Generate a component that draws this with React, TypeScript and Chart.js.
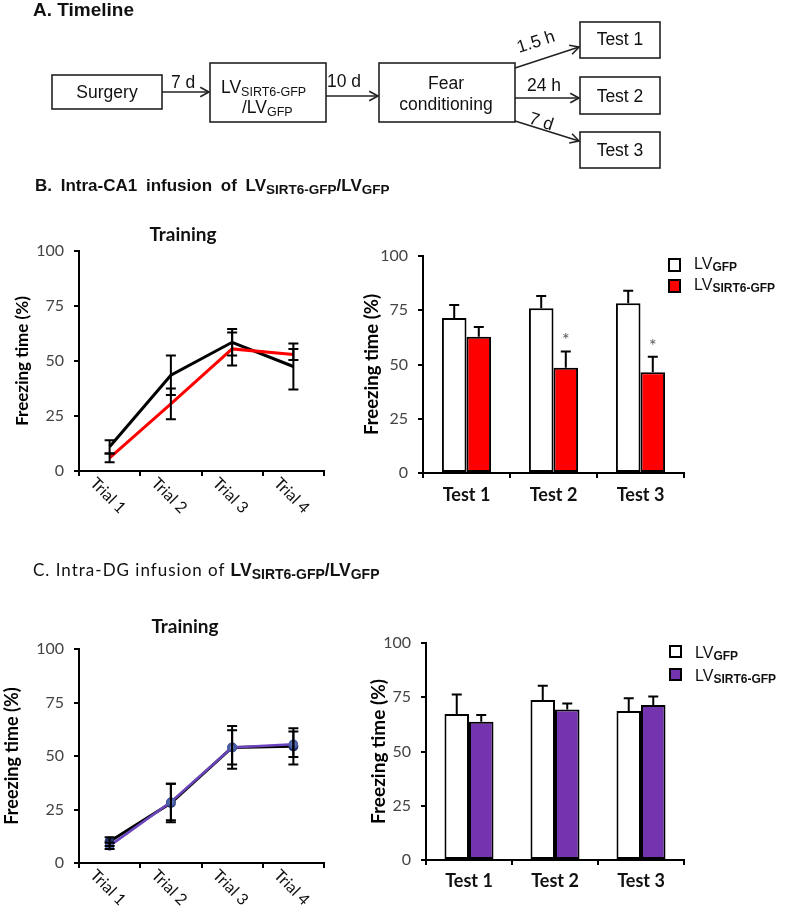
import React, { useEffect, useRef } from 'react';
import { Chart, registerables } from 'chart.js';

Chart.register(...registerables);

// ---------------- DATA ----------------
const trialLabels = ['Trial 1', 'Trial 2', 'Trial 3', 'Trial 4'];
const testLabels = ['Test 1', 'Test 2', 'Test 3'];

// B. Intra-CA1 – training
const bTrainGFP = [11, 43.5, 58.5, 47.5];
const bTrainGFPErr = [3, 9, 6, 10.5];
const bTrainSIRT6 = [6, 30.5, 55.5, 53];
const bTrainSIRT6Err = [2, 7, 7.5, 2.5];

// B. Intra-CA1 – tests
const bTestGFP = [71.4, 75.9, 78.2];
const bTestGFPErr = [6, 5.7, 5.8];
const bTestSIRT6 = [62.8, 48.5, 46.4];
const bTestSIRT6Err = [4.5, 7.5, 7.2];
const bTestSig = ['', '*', '*'];

// C. Intra-DG – training
const cTrainGFP = [10, 28, 54, 54.5];
const cTrainGFPErr = [2, 9, 10, 8.5];
const cTrainSIRT6 = [8, 28.5, 54, 55.5];
const cTrainSIRT6Err = [1.5, 8.5, 8, 6];

// C. Intra-DG – tests
const cTestGFP = [67.3, 73.7, 68.7];
const cTestGFPErr = [9, 6.6, 5.8];
const cTestSIRT6 = [63.7, 69.4, 71.4];
const cTestSIRT6Err = [3.1, 2.7, 3.9];

const yMin = 0;
const yMax = 100;
const yStep = 25;

// ---------------- STYLE ----------------
const FONT = "Lato, 'Open Sans', sans-serif";
const ARIAL = "'Liberation Sans', Arial, sans-serif";
const RED = '#ff0000';
const PURPLE = '#7434b0';
const PURPLE_LINE = '#6b45bd';

Chart.defaults.font.family = FONT;

function makeErrorBars(errors: number[][], opts: { upOnly?: boolean; cap?: number; width?: number }) {
  return {
    id: 'errorBars',
    afterDatasetsDraw(chart: any) {
      const ctx = chart.ctx;
      const y = chart.scales.y;
      const cap = opts.cap ?? 5;
      ctx.save();
      ctx.strokeStyle = '#000';
      ctx.lineWidth = opts.width ?? 2;
      errors.forEach((errs, di) => {
        const meta = chart.getDatasetMeta(di);
        const vals = chart.data.datasets[di].data as number[];
        meta.data.forEach((el: any, i: number) => {
          const v = vals[i];
          const e = errs[i];
          const x = el.x;
          const yt = y.getPixelForValue(v + e);
          const yb = opts.upOnly ? y.getPixelForValue(v) : y.getPixelForValue(v - e);
          ctx.beginPath();
          ctx.moveTo(x, yb);
          ctx.lineTo(x, yt);
          ctx.moveTo(x - cap, yt);
          ctx.lineTo(x + cap, yt);
          if (!opts.upOnly) {
            ctx.moveTo(x - cap, yb);
            ctx.lineTo(x + cap, yb);
          }
          ctx.stroke();
        });
      });
      ctx.restore();
    },
  };
}

function makeSigMarks(datasetIndex: number, marks: string[], errs: number[]) {
  return {
    id: 'sigMarks',
    afterDatasetsDraw(chart: any) {
      const ctx = chart.ctx;
      const y = chart.scales.y;
      const meta = chart.getDatasetMeta(datasetIndex);
      const vals = chart.data.datasets[datasetIndex].data as number[];
      ctx.save();
      ctx.fillStyle = '#555';
      ctx.font = `18px ${FONT}`;
      ctx.textAlign = 'center';
      ctx.textBaseline = 'middle';
      marks.forEach((m, i) => {
        if (!m) return;
        const el = meta.data[i];
        ctx.fillText(m, el.x, y.getPixelForValue(vals[i] + errs[i]) - 11);
      });
      ctx.restore();
    },
  };
}

const rotatedXLabels = {
  id: 'rotatedXLabels',
  afterDraw(chart: any) {
    const x = chart.scales.x;
    const ctx = chart.ctx;
    ctx.save();
    ctx.font = `16px ${FONT}`;
    ctx.fillStyle = '#111';
    ctx.textAlign = 'left';
    ctx.textBaseline = 'top';
    (chart.data.labels as string[]).forEach((lab, i) => {
      const px = x.getPixelForValue(i);
      ctx.save();
      ctx.translate(px - 11, x.top + 4);
      ctx.rotate(Math.PI / 4);
      ctx.fillText(lab, 0, 0);
      ctx.restore();
    });
    ctx.restore();
  },
};

function yAxis(width: number, titleSize: number, titlePad: number) {
  return {
    min: yMin,
    max: yMax,
    ticks: { stepSize: yStep, padding: 10, color: '#444', font: { family: FONT, size: 16 } },
    grid: { drawOnChartArea: false, drawTicks: true, tickLength: 5, lineWidth: 2, color: '#000' },
    border: { display: true, color: '#000', width: 2 },
    title: {
      display: true,
      text: 'Freezing time (%)',
      color: '#000',
      font: { family: FONT, size: titleSize, weight: 'bold' as const },
      padding: { top: titlePad, bottom: 0 },
    },
    afterFit(scale: any) {
      scale.width = width;
    },
  };
}

function lineXAxis(height: number) {
  return {
    offset: true,
    grid: { offset: true, drawOnChartArea: false, tickLength: 5, lineWidth: 2, color: '#000' },
    border: { display: true, color: '#000', width: 2 },
    ticks: { display: false },
    afterFit(scale: any) {
      scale.height = height;
    },
  };
}

function barXAxis(height: number, pad: number) {
  return {
    offset: true,
    grid: { offset: true, drawOnChartArea: false, tickLength: 5, lineWidth: 2, color: '#000' },
    border: { display: true, color: '#000', width: 2 },
    ticks: { color: '#111', padding: pad, font: { family: FONT, size: 18, weight: 'bold' as const } },
    afterFit(scale: any) {
      scale.height = height;
    },
  };
}

const baseOpts = {
  responsive: false,
  animation: false as const,
  events: [] as any[],
  plugins: { legend: { display: false }, tooltip: { enabled: false }, title: { display: false } },
};

const configBLine: any = {
  type: 'line',
  data: {
    labels: trialLabels,
    datasets: [
      { label: 'LV GFP', data: bTrainGFP, borderColor: '#000', borderWidth: 3, pointRadius: 0, order: 1 },
      { label: 'LV SIRT6-GFP', data: bTrainSIRT6, borderColor: RED, borderWidth: 3, pointRadius: 0, order: 0 },
    ],
  },
  options: {
    ...baseOpts,
    layout: { padding: { top: 21, right: 16, left: 0, bottom: 0 } },
    scales: { x: lineXAxis(59), y: yAxis(79, 17, 12) },
  },
  plugins: [makeErrorBars([bTrainGFPErr, bTrainSIRT6Err], { cap: 5 }), rotatedXLabels],
};

const configBBar: any = {
  type: 'bar',
  data: {
    labels: testLabels,
    datasets: [
      { label: 'LV GFP', data: bTestGFP, backgroundColor: '#fff', borderColor: '#000', borderWidth: 2, borderSkipped: false, barPercentage: 1, categoryPercentage: 0.565 },
      { label: 'LV SIRT6-GFP', data: bTestSIRT6, backgroundColor: RED, borderColor: '#000', borderWidth: 2, borderSkipped: false, barPercentage: 1, categoryPercentage: 0.565 },
    ],
  },
  options: {
    ...baseOpts,
    layout: { padding: { top: 26, right: 6, left: 0, bottom: 0 } },
    scales: { x: barXAxis(57, 6), y: yAxis(83, 18.5, 21) },
  },
  plugins: [
    makeErrorBars([bTestGFPErr, bTestSIRT6Err], { upOnly: true, cap: 5 }),
    makeSigMarks(1, bTestSig, bTestSIRT6Err),
  ],
};

const configCLine: any = {
  type: 'line',
  data: {
    labels: trialLabels,
    datasets: [
      { label: 'LV GFP', data: cTrainGFP, borderColor: '#000', borderWidth: 3, pointRadius: 3.5, pointBackgroundColor: '#1f2e66', pointBorderColor: '#1f2e66', order: 1 },
      { label: 'LV SIRT6-GFP', data: cTrainSIRT6, borderColor: PURPLE_LINE, borderWidth: 2.5, pointRadius: 3.5, pointBackgroundColor: '#6f86c8', pointBorderColor: '#4a5fa8', order: 0 },
    ],
  },
  options: {
    ...baseOpts,
    layout: { padding: { top: 39, right: 16, left: 0, bottom: 0 } },
    scales: { x: lineXAxis(50), y: yAxis(79, 18, 1) },
  },
  plugins: [makeErrorBars([cTrainGFPErr, cTrainSIRT6Err], { cap: 5 }), rotatedXLabels],
};

const configCBar: any = {
  type: 'bar',
  data: {
    labels: testLabels,
    datasets: [
      { label: 'LV GFP', data: cTestGFP, backgroundColor: '#fff', borderColor: '#000', borderWidth: 2, borderSkipped: false, barPercentage: 1, categoryPercentage: 0.57 },
      { label: 'LV SIRT6-GFP', data: cTestSIRT6, backgroundColor: PURPLE, borderColor: '#000', borderWidth: 2, borderSkipped: false, barPercentage: 1, categoryPercentage: 0.57 },
    ],
  },
  options: {
    ...baseOpts,
    layout: { padding: { top: 33, right: 6, left: 0, bottom: 0 } },
    scales: { x: barXAxis(53, 5), y: yAxis(86, 19, 27) },
  },
  plugins: [makeErrorBars([cTestGFPErr, cTestSIRT6Err], { upOnly: true, cap: 5 })],
};

function ChartCanvas({ config, left, top, width, height }: { config: any; left: number; top: number; width: number; height: number }) {
  const ref = useRef<HTMLCanvasElement>(null);
  useEffect(() => {
    const chart = new Chart(ref.current as HTMLCanvasElement, config);
    return () => chart.destroy();
  }, [config]);
  return (
    <canvas
      ref={ref}
      width={width}
      height={height}
      style={{ position: 'absolute', left, top, width, height }}
    />
  );
}

function Arrow({ x1, y1, x2, y2 }: { x1: number; y1: number; x2: number; y2: number }) {
  const a = Math.atan2(y2 - y1, x2 - x1);
  const L = 10;
  const s = 0.5;
  const p1 = [x2 - L * Math.cos(a - s), y2 - L * Math.sin(a - s)];
  const p2 = [x2 - L * Math.cos(a + s), y2 - L * Math.sin(a + s)];
  return (
    <g stroke="#222" strokeWidth={1.6} fill="none">
      <line x1={x1} y1={y1} x2={x2} y2={y2} />
      <polyline points={`${p1[0]},${p1[1]} ${x2},${y2} ${p2[0]},${p2[1]}`} />
    </g>
  );
}

const boldArial = { fontFamily: ARIAL, fontWeight: 'bold' as const, letterSpacing: 0 };

function Overlay() {
  return (
    <svg width={787} height={913} style={{ position: 'absolute', left: 0, top: 0, pointerEvents: 'none' }}>
      {/* A. Timeline */}
      <g fontFamily={ARIAL} fill="#111">
        <text x={33} y={16} fontSize={19} fontWeight="bold">A. Timeline</text>
        <g stroke="#222" strokeWidth={1.6} fill="none">
          <rect x={52} y={75} width={110} height={34} />
          <rect x={210} y={63} width={116} height={59} />
          <rect x={379} y={63} width={136} height={59} />
          <rect x={580} y={22} width={80} height={36} />
          <rect x={580} y={77} width={80} height={37} />
          <rect x={580} y={132} width={80} height={36} />
        </g>
        <Arrow x1={162} y1={92} x2={209} y2={92} />
        <Arrow x1={326} y1={96} x2={378} y2={96} />
        <Arrow x1={515} y1={68} x2={579} y2={47} />
        <Arrow x1={515} y1={98} x2={579} y2={98} />
        <Arrow x1={515} y1={121} x2={579} y2={141} />
        <text x={107} y={98} fontSize={17.5} textAnchor="middle">Surgery</text>
        <text x={171} y={88} fontSize={17.5}>7 d</text>
        <text x={221} y={93} fontSize={17.5}>LV<tspan fontSize={12.5} dy={3}>SIRT6-GFP</tspan></text>
        <text x={242} y={113} fontSize={17.5}>/LV<tspan fontSize={12.5} dy={3}>GFP</tspan></text>
        <text x={327} y={87} fontSize={17.5}>10 d</text>
        <text x={446} y={89} fontSize={17.5} textAnchor="middle">Fear</text>
        <text x={446} y={110} fontSize={17.5} textAnchor="middle">conditioning</text>
        <text x={620} y={45} fontSize={17.5} textAnchor="middle">Test 1</text>
        <text x={620} y={102} fontSize={17.5} textAnchor="middle">Test 2</text>
        <text x={620} y={156} fontSize={17.5} textAnchor="middle">Test 3</text>
        <text x={519} y={53} fontSize={17.5} transform="rotate(-18 519 53)">1.5 h</text>
        <text x={527} y={91} fontSize={17.5}>24 h</text>
        <text x={528} y={123} fontSize={17.5} transform="rotate(18 528 123)">7 d</text>
      </g>

      {/* Panel headings */}
      <text x={35} y={191} fontFamily={ARIAL} fontSize={17} fontWeight="bold" fill="#111" wordSpacing={4}>
        B. Intra-CA1 infusion of LV<tspan fontSize={13.5} dy={3}>SIRT6-GFP</tspan><tspan dy={-3}>/LV</tspan><tspan fontSize={13.5} dy={3}>GFP</tspan>
      </text>
      <text x={33} y={576} fontFamily={FONT} fontSize={17} fill="#111" letterSpacing={1}>
        C. Intra-DG infusion of <tspan {...boldArial} fontSize={17.5}>LV</tspan><tspan {...boldArial} fontSize={14} dy={3}>SIRT6-GFP</tspan><tspan {...boldArial} fontSize={17.5} dy={-3}>/LV</tspan><tspan {...boldArial} fontSize={14} dy={3}>GFP</tspan>
      </text>

      {/* Training titles */}
      <text x={183} y={241} fontFamily={FONT} fontSize={19} fontWeight="bold" textAnchor="middle" fill="#111">Training</text>
      <text x={185} y={633} fontFamily={FONT} fontSize={19} fontWeight="bold" textAnchor="middle" fill="#111">Training</text>

      {/* Legend B */}
      <rect x={669} y={259} width={11} height={12} fill="#fff" stroke="#000" strokeWidth={2} />
      <rect x={669} y={280} width={11} height={12} fill={RED} stroke="#000" strokeWidth={2} />
      <text x={694} y={269} fontFamily={ARIAL} fontSize={16} fill="#111">LV<tspan fontSize={12} fontWeight="bold" dy={2}>GFP</tspan></text>
      <text x={694} y={290} fontFamily={ARIAL} fontSize={16} fill="#111">LV<tspan fontSize={12} fontWeight="bold" dy={2}>SIRT6-GFP</tspan></text>

      {/* Legend C */}
      <rect x={670} y={646} width={11} height={11} fill="#fff" stroke="#000" strokeWidth={2} />
      <rect x={670} y={669} width={11} height={11} fill={PURPLE} stroke="#000" strokeWidth={2} />
      <text x={695} y={658} fontFamily={ARIAL} fontSize={16} fill="#111">LV<tspan fontSize={12} fontWeight="bold" dy={2}>GFP</tspan></text>
      <text x={695} y={681} fontFamily={ARIAL} fontSize={16} fill="#111">LV<tspan fontSize={12} fontWeight="bold" dy={2}>SIRT6-GFP</tspan></text>
    </svg>
  );
}

export default function App() {
  return (
    <div style={{ position: 'absolute', left: 0, top: 0, width: 787, height: 913, background: '#fff', overflow: 'hidden' }}>
      <ChartCanvas config={configBLine} left={0} top={230} width={340} height={300} />
      <ChartCanvas config={configBBar} left={340} top={230} width={350} height={300} />
      <ChartCanvas config={configCLine} left={0} top={610} width={340} height={303} />
      <ChartCanvas config={configCBar} left={340} top={610} width={350} height={303} />
      <Overlay />
    </div>
  );
}
